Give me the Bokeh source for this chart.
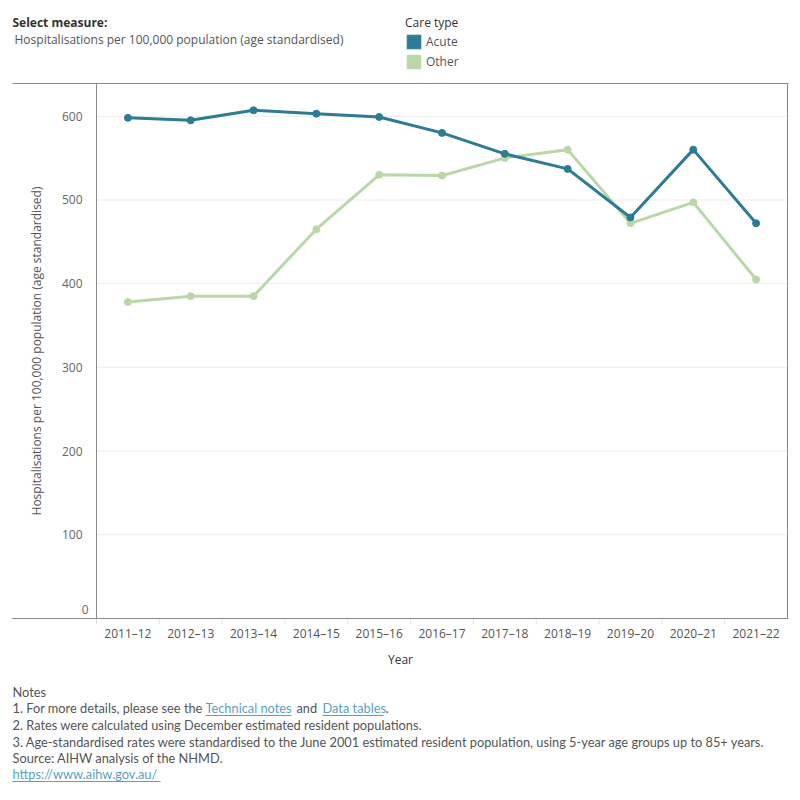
from bokeh.plotting import figure
from bokeh.models import (ColumnDataSource, FixedTicker, Label, BoxAnnotation,
                          Legend, LegendItem, LinearAxis, Range1d)
from bokeh.embed import file_html
from bokeh.resources import INLINE

# Financial years on the x axis
years = ["2011\u201312", "2012\u201313", "2013\u201314", "2014\u201315", "2015\u201316",
         "2016\u201317", "2017\u201318", "2018\u201319", "2019\u201320", "2020\u201321",
         "2021\u201322"]

# Hospitalisations per 100,000 population (age standardised)
acute = [598, 595, 607, 603, 599, 580, 555, 537, 479, 560, 472]
other = [378, 385, 385, 465, 530, 529, 550, 560, 472, 497, 405]

y_ticks = [0, 100, 200, 300, 400, 500, 600]
y_max = 639

ACUTE_COLOR = "#2d7b94"
OTHER_COLOR = "#bad8a7"
TEXT = "#555555"
DARK = "#333333"
RULE = "#8a8a8a"
LINK = "#5a9fc4"
FONT = "Open Sans"
NOTE_FONT = "Lato"
NOTE_SIZE = "12.8px"

# Page geometry (pixels): the plotting frame covers the whole page so that
# titles and notes drawn around the chart area are not clipped.
W, H = 800, 800
LEFT, RIGHT, TOP, ZERO = 96, 787, 83, 618
ppu = (ZERO - TOP) / y_max                 # pixels per y unit
step = (RIGHT - LEFT) / len(years)         # pixels per year slot

y_range = Range1d(-(H - ZERO) / ppu, y_max + TOP / ppu)
x_range = Range1d(-0.5 - LEFT / step, len(years) - 0.5 + (W - RIGHT) / step)


def px_x(px):
    return x_range.start + px / step


def px_y(py):
    return y_range.end - py / ppu


xs = list(range(len(years)))
src = ColumnDataSource(dict(x=xs, year=years, acute=acute, other=other))

p = figure(width=W, height=H, x_range=x_range, y_range=y_range,
           x_axis_type=None, y_axis_type=None,
           output_backend="svg", toolbar_location=None, min_border=0)
p.background_fill_color = "white"
p.border_fill_color = "white"
p.outline_line_color = None

# Y axis pinned at the left edge of the chart area; the zero label sits
# just above the baseline, so it is drawn separately below
yaxis = LinearAxis(fixed_location=px_x(LEFT), bounds=(0, y_max),
                   ticker=FixedTicker(ticks=y_ticks),
                   major_label_overrides={0: ""})
yaxis.axis_label = "Hospitalisations per 100,000 population (age standardised)"
yaxis.axis_label_text_font = FONT
yaxis.axis_label_text_font_size = "12px"
yaxis.axis_label_text_font_style = "normal"
yaxis.axis_label_text_color = TEXT
yaxis.axis_label_standoff = 14
yaxis.major_label_text_font = FONT
yaxis.major_label_text_font_size = "12px"
yaxis.major_label_text_color = "#666666"
yaxis.major_label_standoff = 8
yaxis.major_tick_line_color = None
yaxis.minor_tick_line_color = None
yaxis.axis_line_color = RULE
p.add_layout(yaxis, "left")

# X axis pinned at zero, one tick per year
xaxis = LinearAxis(fixed_location=0, bounds=(px_x(12), px_x(RIGHT)),
                   ticker=FixedTicker(ticks=xs),
                   major_label_overrides={i: y for i, y in zip(xs, years)})
xaxis.major_label_text_font = FONT
xaxis.major_label_text_font_size = "12px"
xaxis.major_label_text_color = TEXT
xaxis.major_label_standoff = 0
xaxis.major_tick_line_color = None
xaxis.minor_tick_line_color = None
xaxis.axis_line_color = RULE
p.add_layout(xaxis, "below")


def box(x0, x1, y0, y1, color, level="underlay"):
    p.add_layout(BoxAnnotation(left=px_x(x0), right=px_x(x1), top=px_y(y0),
                               bottom=px_y(y1), fill_color=color, fill_alpha=1,
                               line_color=None, level=level))


# Horizontal gridlines inside the chart area
for t in y_ticks[1:]:
    yy = ZERO - t * ppu
    box(LEFT, RIGHT, yy - 0.5, yy + 0.5, "#ececec")

# Faint separators between year slots under the baseline
for k in range(len(years)):
    sx = LEFT + k * step
    box(sx - 0.5, sx + 0.5, ZERO, ZERO + 6, "#e4e4e4")

# Chart border: top rule, bottom rule and right edge
box(12, RIGHT + 1, TOP - 0.5, TOP + 0.5, RULE)
box(12, RIGHT + 1, ZERO - 0.5, ZERO + 0.5, RULE)
box(RIGHT - 0.5, RIGHT + 0.5, TOP, ZERO, RULE)

# Series lines and points
p.line("x", "other", source=src, line_color=OTHER_COLOR, line_width=3)
p.scatter("x", "other", source=src, size=7, fill_color=OTHER_COLOR,
          line_color=OTHER_COLOR)
p.line("x", "acute", source=src, line_color=ACUTE_COLOR, line_width=3)
p.scatter("x", "acute", source=src, size=7, fill_color=ACUTE_COLOR,
          line_color=ACUTE_COLOR)

# Legend swatches: quads with no drawable extent, used only for the key
nan = float("nan")
sw_acute = p.quad(left=[nan], right=[nan], top=[nan], bottom=[nan],
                  fill_color=ACUTE_COLOR, line_color=ACUTE_COLOR)
sw_other = p.quad(left=[nan], right=[nan], top=[nan], bottom=[nan],
                  fill_color=OTHER_COLOR, line_color=OTHER_COLOR)
legend = Legend(items=[LegendItem(label="Acute", renderers=[sw_acute]),
                       LegendItem(label="Other", renderers=[sw_other])],
                title="Care type", location=(405, H - 70), orientation="vertical",
                padding=0, margin=0, spacing=3, glyph_width=17, glyph_height=17,
                label_height=17, label_standoff=4,
                border_line_color=None, background_fill_alpha=0)
legend.title_text_font = FONT
legend.title_text_font_size = "12px"
legend.title_text_font_style = "normal"
legend.title_text_color = DARK
legend.title_standoff = 2
legend.label_text_font = FONT
legend.label_text_font_size = "12px"
legend.label_text_color = TEXT
p.add_layout(legend, "center")


def text(x, y, s, size="12px", color=TEXT, font=FONT, style="normal",
         align="left"):
    p.add_layout(Label(x=px_x(x), y=px_y(y), text=s, text_font=font,
                       text_font_size=size, text_color=color,
                       text_font_style=style, text_align=align,
                       text_baseline="middle"))


# Zero tick label, raised above the baseline
text(LEFT - 8, 609, str(y_ticks[0]), color="#666666", align="right")

# Header
text(12, 22, "Select measure:", color=DARK, style="bold")
text(14, 39, "Hospitalisations per 100,000 population (age standardised)")

# X axis title
text(400, 659, "Year", color=DARK, align="center")

# Notes
notes = [
    (691, "Notes"),
    (724, "2. Rates were calculated using December estimated resident populations."),
    (741, "3. Age-standardised rates were standardised to the June 2001 estimated "
          "resident population, using 5-year age groups up to 85+ years."),
    (757, "Source: AIHW analysis of the NHMD."),
]
for y, s in notes:
    text(12, y, s, font=NOTE_FONT, size=NOTE_SIZE)

# First note line mixes plain text and links
parts = [
    (12, "1. For more details, please see the", TEXT, None),
    (205, "Technical notes", LINK, 291),
    (296, "and", TEXT, None),
    (322, "Data tables", LINK, 383),
    (385, ".", TEXT, None),
]
for x, s, c, x_end in parts:
    text(x, 707, s, font=NOTE_FONT, size=NOTE_SIZE, color=c)
    if x_end:
        box(x, x_end, 714.5, 715.5, LINK)

text(12, 773, "https://www.aihw.gov.au/", font=NOTE_FONT, size=NOTE_SIZE,
     color=LINK)
box(12, 160, 780.5, 781.5, LINK)

open("out.html", "w").write(file_html(p, INLINE))
